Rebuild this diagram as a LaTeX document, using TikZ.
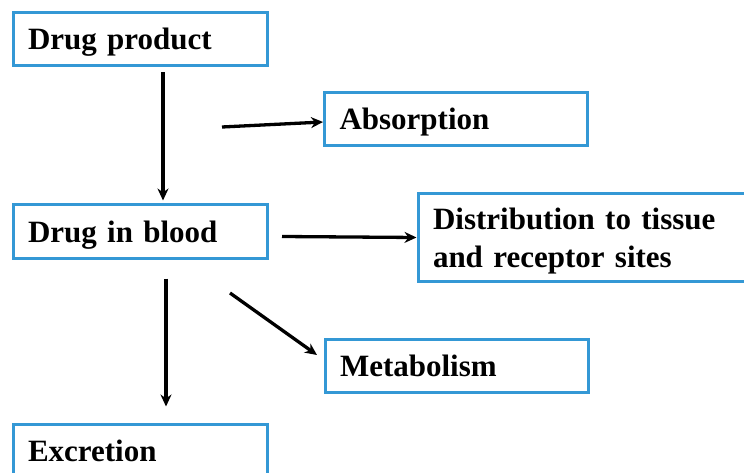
\documentclass[tikz,border=0pt]{standalone}
\usepackage{fontspec}
\setmainfont{Liberation Serif}
\usetikzlibrary{arrows.meta}
\definecolor{boxblue}{RGB}{52,152,213}
\tikzset{
  box/.style={draw=boxblue, line width=3pt, rectangle, minimum height=53pt,
    inner xsep=15pt, inner ysep=0pt, align=left, text height=25pt, text depth=4pt,
    font=\fontsize{31}{38}\selectfont\bfseries},
  arr/.style={draw=black, line width=3.3pt, -{Stealth[length=12pt,width=11pt]}}
}
\begin{document}
\begin{tikzpicture}[x=1pt,y=-1pt]
\useasboundingbox (0,0) rectangle (744,473);
\clip (0,0) rectangle (744,473);
\node[box, text width=224pt, minimum width=254pt] (dp) at (140,39.5) {Drug product};
\node[box, text width=233pt, minimum width=263pt] (abs) at (456,119.5) {Absorption};
\node[box, text width=224pt, minimum width=254pt] (blood) at (140,231.5) {Drug in blood};
\node[box, text width=310pt, minimum width=340pt, minimum height=88pt, text height=, text depth=] (dist) at (588,237.5) {\rule{0pt}{29.5pt}Distribution to tissue\\and receptor sites};
\node[box, text width=233pt, minimum width=263pt] (met) at (456.5,365.5) {Metabolism};
\node[box, text width=224pt, minimum width=254pt] (exc) at (140,450.5) {Excretion};
\coordinate (absstart) at (222,127);
\coordinate (diststart) at (282,236.5);
\coordinate (metstart) at (230,293);
\coordinate (metend) at (317,355);
\draw[arr] ([xshift=23pt,yshift=-5pt]dp.south) -- ([xshift=23pt,yshift=3pt]blood.north);
\draw[arr] (absstart) -- ([yshift=-2.5pt]abs.west);
\draw[arr] (diststart) -- (dist.west);
\draw[arr] ([xshift=26pt,yshift=-19pt]blood.south) -- ([xshift=26pt,yshift=16pt]exc.north);
\draw[arr] (metstart) -- (metend);
\end{tikzpicture}
\end{document}
